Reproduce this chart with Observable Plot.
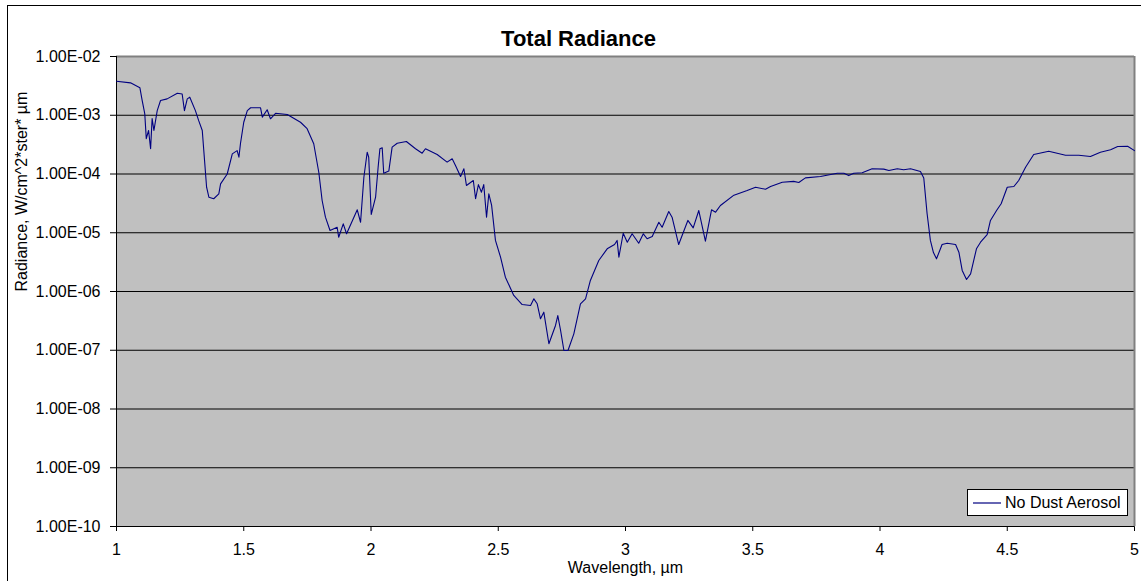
<!DOCTYPE html>
<html>
<head>
<meta charset="utf-8">
<script src="https://cdn.jsdelivr.net/npm/d3@7"></script>
<script src="https://cdn.jsdelivr.net/npm/@observablehq/plot@0.6"></script>
<style>
  body { margin: 0; background: #fff; font-family: "Liberation Sans", Arial, sans-serif; }
  #wrap { position: relative; width: 1141px; height: 581px; overflow: hidden; }
  #border { position: absolute; left: 7px; top: 5px; width: 1200px; height: 700px; border: 1px solid #000; box-sizing: border-box; pointer-events: none; }
  #chart { position: absolute; left: 0; top: 0; }
  #legend { position: absolute; left: 967px; top: 489px; width: 161px; height: 27px; box-sizing: border-box;
            border: 1px solid #000; background: #fff; font-size: 16px; display: flex; align-items: center; }
  #legend svg { margin-left: 5px; margin-right: 4px; }
</style>
</head>
<body>
<div id="wrap">
  <div id="chart"></div>
  <div id="border"></div>
  <div id="legend"></div>
</div>
<script>
const title = "Total Radiance";
const xLabel = "Wavelength, µm";
const yLabel = "Radiance, W/cm^2*ster* µm";
const seriesName = "No Dust Aerosol";
const xTicks = [1, 1.5, 2, 2.5, 3, 3.5, 4, 4.5, 5];
const yTicks = [1e-10, 1e-9, 1e-8, 1e-7, 1e-6, 1e-5, 1e-4, 1e-3, 1e-2];

const wavelength = [1.000,1.055,1.092,1.101,1.111,1.117,1.126,1.134,1.140,1.147,1.160,1.173,1.199,1.239,1.258,1.267,1.278,1.288,1.310,1.323,1.337,1.346,1.354,1.363,1.382,1.402,1.409,1.435,1.455,1.474,1.481,1.487,1.500,1.514,1.527,1.566,1.573,1.592,1.605,1.625,1.671,1.723,1.749,1.775,1.795,1.808,1.821,1.839,1.867,1.873,1.891,1.904,1.946,1.959,1.972,1.985,1.991,2.001,2.018,2.028,2.035,2.044,2.050,2.070,2.083,2.103,2.139,2.175,2.201,2.214,2.260,2.299,2.319,2.332,2.352,2.365,2.375,2.402,2.411,2.422,2.434,2.443,2.454,2.463,2.474,2.489,2.509,2.528,2.561,2.594,2.627,2.640,2.653,2.666,2.679,2.699,2.725,2.734,2.745,2.758,2.774,2.797,2.823,2.843,2.862,2.895,2.928,2.957,2.967,2.974,2.991,3.007,3.026,3.052,3.070,3.085,3.105,3.131,3.144,3.170,3.183,3.209,3.245,3.266,3.288,3.314,3.338,3.354,3.373,3.426,3.478,3.511,3.550,3.570,3.616,3.661,3.681,3.707,3.766,3.832,3.858,3.877,3.897,3.930,3.969,4.015,4.035,4.068,4.093,4.120,4.159,4.172,4.185,4.198,4.210,4.222,4.244,4.264,4.297,4.310,4.323,4.340,4.356,4.379,4.395,4.421,4.434,4.458,4.476,4.500,4.526,4.545,4.572,4.604,4.663,4.729,4.781,4.827,4.866,4.906,4.934,4.973,5.000];

const radiance = [3.8e-3,3.56e-3,2.93e-3,1.78e-3,1.07e-3,4.0e-4,5.5e-4,2.7e-4,8.8e-4,5.5e-4,1.2e-3,1.78e-3,1.9e-3,2.37e-3,2.3e-3,1.2e-3,1.9e-3,2.03e-3,1.2e-3,8.1e-4,5.5e-4,1.7e-4,5.96e-5,4.03e-5,3.79e-5,4.6e-5,6.8e-5,1.0e-4,2.2e-4,2.5e-4,1.93e-4,3.27e-4,7.6e-4,1.2e-3,1.34e-3,1.34e-3,9.3e-4,1.24e-3,8.7e-4,1.08e-3,1.03e-3,7.6e-4,5.9e-4,3.27e-4,1.06e-4,3.54e-5,1.84e-5,1.09e-5,1.24e-5,8.4e-6,1.42e-5,9.6e-6,2.46e-5,1.51e-5,8.8e-5,2.35e-4,1.93e-4,2.05e-5,4.03e-5,1.3e-4,2.69e-4,2.79e-4,1.03e-4,1.12e-4,2.86e-4,3.34e-4,3.57e-4,2.69e-4,2.26e-4,2.69e-4,2.15e-4,1.59e-4,1.82e-4,1.4e-4,9.06e-5,1.23e-4,6.37e-5,7.75e-5,3.79e-5,6.6e-5,4.9e-5,6.6e-5,1.84e-5,4.6e-5,2.91e-5,7.4e-6,3.84e-6,1.75e-6,8.55e-7,6.0e-7,5.78e-7,7.5e-7,6.18e-7,3.43e-7,4.45e-7,1.29e-7,2.64e-7,3.9e-7,2.17e-7,9.9e-8,9.9e-8,1.9e-7,6.18e-7,7.5e-7,1.54e-6,3.37e-6,5.33e-6,6.3e-6,7.4e-6,3.84e-6,9.8e-6,6.9e-6,9.6e-6,6.64e-6,9.6e-6,7.9e-6,8.6e-6,1.51e-5,1.24e-5,2.3e-5,1.84e-5,6.3e-6,1.62e-5,1.21e-5,2.39e-5,7.2e-6,2.46e-5,2.24e-5,2.91e-5,4.36e-5,5.24e-5,5.96e-5,5.5e-5,6.12e-5,7.24e-5,7.5e-5,7.16e-5,8.6e-5,9.06e-5,1.03e-4,1.03e-4,9.4e-5,1.03e-4,1.05e-4,1.23e-4,1.21e-4,1.15e-4,1.23e-4,1.18e-4,1.23e-4,1.1e-4,8.55e-5,2.13e-5,7.4e-6,4.6e-6,3.6e-6,6.3e-6,6.64e-6,6.3e-6,4.67e-6,2.28e-6,1.6e-6,2.0e-6,5.33e-6,6.9e-6,9.3e-6,1.62e-5,2.39e-5,3.11e-5,5.96e-5,6.12e-5,7.75e-5,1.3e-4,2.15e-4,2.44e-4,2.09e-4,2.09e-4,1.99e-4,2.35e-4,2.58e-4,2.94e-4,2.97e-4,2.5e-4];

const data = wavelength.map((w, i) => ({w, r: radiance[i]}));
const lineColor = "#000080";
const fmtY = d => "1.00E-" + String(Math.round(-Math.log10(d))).padStart(2, "0");

const chart = Plot.plot({
  width: 1141,
  height: 581,
  marginLeft: 116,
  marginRight: 7,
  marginTop: 56,
  marginBottom: 55,
  style: { background: "transparent", fontFamily: "'Liberation Sans', Arial, sans-serif", fontSize: "16px", color: "#000" },
  x: { domain: [1, 5], ticks: xTicks, tickFormat: d => String(d), tickSize: 5, tickPadding: 12, label: null },
  y: { type: "log", domain: [1e-10, 1e-2], ticks: yTicks, tickFormat: fmtY, tickSize: 6, tickPadding: 10, label: null },
  marks: [
    Plot.frame({ fill: "#c0c0c0", stroke: "none" }),
    Plot.ruleY(yTicks.slice(1, -1), { stroke: "#000", strokeWidth: 1 }),
    Plot.ruleY([yTicks[yTicks.length - 1]], { stroke: "#808080", strokeWidth: 2 }),
    Plot.ruleX([xTicks[xTicks.length - 1]], { stroke: "#808080", strokeWidth: 2 }),
    Plot.ruleY([yTicks[0]], { stroke: "#000", strokeWidth: 1 }),
    Plot.ruleX([xTicks[0]], { stroke: "#000", strokeWidth: 1 }),
    Plot.line(data, { x: "w", y: "r", stroke: lineColor, strokeWidth: 1.1 }),
    Plot.text([title], { frameAnchor: "top", dx: -47, dy: -26, fontSize: 22, fontWeight: "bold" }),
    Plot.text([xLabel], { frameAnchor: "bottom", dy: 46, fontSize: 16 }),
    Plot.text([yLabel], { frameAnchor: "left", dx: -95, rotate: -90, fontSize: 16 })
  ]
});
document.getElementById("chart").appendChild(chart);

const legend = document.getElementById("legend");
legend.innerHTML = `<svg width="28" height="10"><line x1="0" x2="28" y1="5" y2="5" stroke="${lineColor}" stroke-width="1.2"/></svg><span>${seriesName}</span>`;
</script>
</body>
</html>
